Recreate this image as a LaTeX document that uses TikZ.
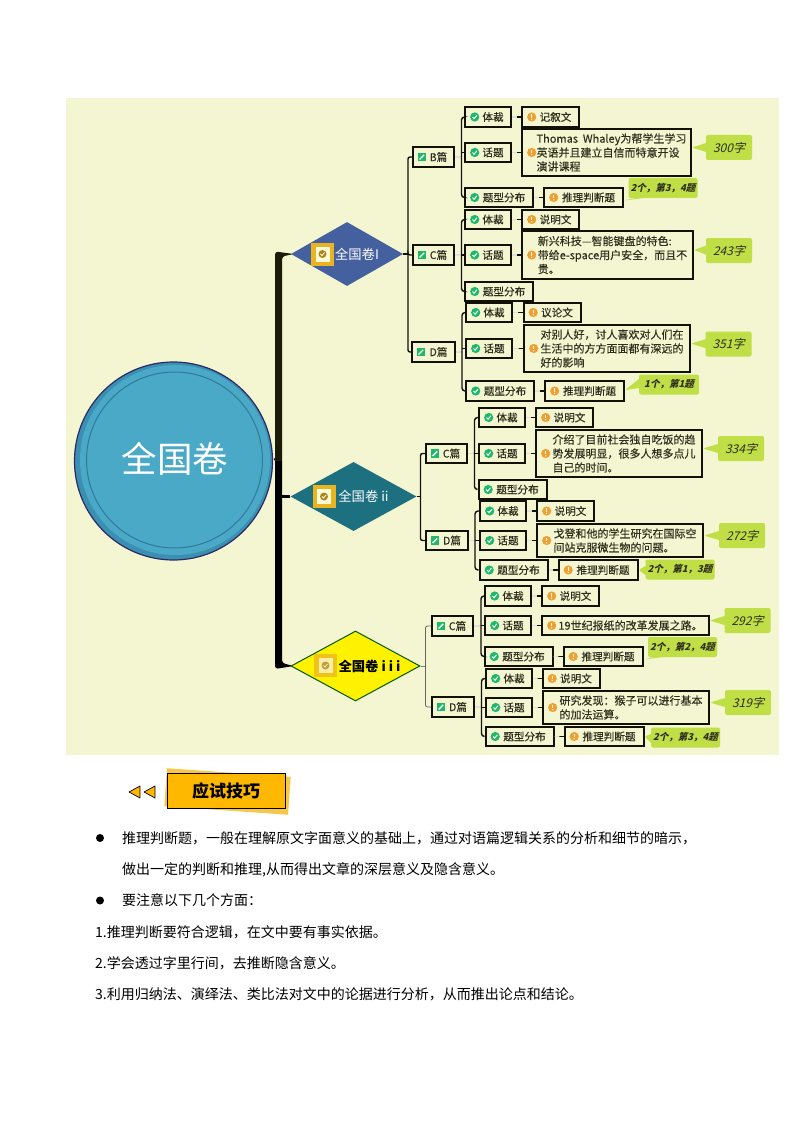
\documentclass[tikz,border=0pt]{standalone}
\usepackage{fontspec}
\setmainfont{Noto Sans CJK SC}
\newfontfamily\slantfont{Noto Sans CJK SC}[FakeSlant=0.25,BoldFeatures={FakeSlant=0.25}]
\newfontfamily\boxfont{Noto Sans CJK SC}[FakeBold=0.25]
\usepackage{tikz}
\usetikzlibrary{calc}
\usetikzlibrary{shapes.geometric}
\usetikzlibrary{shapes.callouts}
\definecolor{paper}{HTML}{F4F6D2}
\definecolor{boxline}{HTML}{111108}
\definecolor{inktext}{HTML}{2E2E1C}
\definecolor{okgreen}{HTML}{1DB86A}
\definecolor{warnorange}{HTML}{F0A030}
\definecolor{limetag}{HTML}{C0DE46}
\definecolor{rootblue}{HTML}{4AA9C6}
\definecolor{rootdark}{HTML}{3B8FB0}
\definecolor{rootrim}{HTML}{2C2A66}
\definecolor{trunkolive}{HTML}{1C1A08}
\definecolor{stampgold}{HTML}{EAB420}
\definecolor{tipgold}{HTML}{FFB800}
\definecolor{tipback}{HTML}{F5C84A}
\definecolor{slateblue}{HTML}{44609F}
\definecolor{deepteal}{HTML}{1D7080}
\newcommand{\ind}{\hspace*{10pt}}
\tikzset{
  tagbox/.style={draw=boxline, fill=paper, line width=2pt, minimum height=19.5pt, inner sep=0pt,
    text=inktext, font=\boxfont\fontsize{10.6}{14}\selectfont, align=left},
  passbox/.style={tagbox, minimum width=41pt},
  shortbox/.style={tagbox, minimum width=46pt},
  widebox/.style={tagbox, minimum width=68pt},
  valbox/.style={tagbox, minimum width=57pt},
  judgebox/.style={tagbox, minimum width=79pt},
  notebox/.style={tagbox, font=\boxfont\fontsize{11}{14}\selectfont},
  limetip/.style={rectangle callout, fill=limetag, rounded corners=2pt, inner sep=0pt,
    callout pointer width=9pt, text=inktext},
  wordtip/.style={limetip, minimum width=46pt, minimum height=25pt, font=\slantfont\fontsize{12}{14}\selectfont},
  counttip/.style={limetip, minimum width=69pt, minimum height=20pt, font=\slantfont\bfseries\fontsize{9.5}{12}\selectfont},
  paperdiamond/.style={diamond, aspect=1.75, inner sep=0pt, font=\fontsize{13.3}{15}\selectfont},
  link/.style={draw=boxline, line width=1.4pt},
  faint/.style={draw=white!75!gray, line width=1.4pt},
  bodyline/.style={anchor=west, inner sep=0pt, font=\fontsize{14}{16}\selectfont},
  dotmark/.style={circle, fill=black, inner sep=0pt, minimum size=8pt},
  tipmark/.style={draw=black, fill=tipgold, line width=.7pt, line join=round},
  okicon/.pic={\fill[okgreen] (0,0) circle [radius=4.6];
    \draw[white,line width=1pt] (-2.2,0) -- (-.6,1.7) -- (2.2,-1.7);},
  warnicon/.pic={\fill[warnorange] (0,0) circle [radius=4.6];
    \draw[white,line width=1.2pt] (0,-2.8) -- (0,.7);
    \fill[white] (0,2.3) circle [radius=.7];},
  penicon/.pic={\fill[okgreen] (-4.3,-4.3) rectangle (4.3,4.3);
    \draw[white,line width=1.4pt] (-2.4,2.4) -- (2.2,-2.2);},
  stamp/.pic={\fill[stampgold] (-11.5,-11.5) rectangle (11.5,11.5);
    \fill[white!85!yellow] (-7,-7.5) rectangle (7,7.5);
    \fill[stampgold!75!black] (0,0) circle [radius=4];
    \draw[white,line width=.8pt] (-2,0) -- (-.5,1.5) -- (2,-1.5);}
}
\begin{document}
\begin{tikzpicture}[x=1pt,y=-1pt]
\useasboundingbox (0,0) rectangle (794,1123);
\fill[paper] (66,98) rectangle (779,755);
% centre circle
\fill[rootdark, draw=rootrim, line width=1.2pt] (173.5,461) circle [radius=99];
\fill[rootblue] (175,460) circle [radius=95];
\draw[rootdark!85!black, line width=1pt] (174.5,460) circle [radius=88];
\node[circle, minimum size=198pt, inner sep=0pt, text=white, font=\fontsize{35.5}{38}\selectfont] (root) at (175,459) {全国卷};
% three papers
\node[paperdiamond, fill=slateblue, minimum width=112pt, minimum height=64pt, text=white] (papA) at (347,254) {\hspace*{20pt}全国卷I};
\node[paperdiamond, fill=deepteal, minimum width=126pt, minimum height=69pt, text=white] (papB) at (353.5,496.5) {\hspace*{20pt}全国卷 ii};
\node[paperdiamond, fill=yellow, draw=green!35!black, line width=1pt, minimum width=129pt, minimum height=70pt, font=\bfseries\fontsize{13.3}{15}\selectfont] (papC) at (355.5,666) {\hspace*{28pt}全国卷 i i i};
\pic at (322.5,254) {stamp};
\pic at (324,496.5) {stamp};
\pic[opacity=.75] at (325.5,665.5) {stamp};
% paper I, B
\node[passbox] (aB) at (433.5,157) {\ind B篇};
\node[shortbox] (aBg) at (488,117) {\ind 体裁};
\node[valbox] (aBgv) at (550.5,117) {\ind 记叙文};
\node[shortbox] (aBt) at (488,152.5) {\ind 话题};
\node[notebox, minimum width=169pt, minimum height=47pt] (aBtv) at (606.5,152.5) {\ind Thomas\ \ Whaley为帮学生学习\\\ind 英语并且建立自信而特意开设\\\ind 演讲课程};
\node[widebox] (aBq) at (499,197.5) {\ind 题型分布};
\node[judgebox] (aBqv) at (583.5,197.5) {\ind 推理判断题};
% paper I, C
\node[passbox] (aC) at (433.5,255) {\ind C篇};
\node[shortbox] (aCg) at (488,219.5) {\ind 体裁};
\node[valbox] (aCgv) at (550.5,219.5) {\ind 说明文};
\node[shortbox] (aCt) at (488,255) {\ind 话题};
\node[notebox, minimum width=171pt, minimum height=47pt] (aCtv) at (607.5,255) {\ind 新兴科技—智能键盘的特色:\\\ind 带给e-space用户安全，而且不\\\ind 贵。};
\node[widebox] (aCq) at (499,291.5) {\ind 题型分布};
% paper I, D
\node[tagbox, minimum width=43pt] (aD) at (433.5,352) {\ind D篇};
\node[shortbox] (aDg) at (489,312.5) {\ind 体裁};
\node[valbox] (aDgv) at (552,312.5) {\ind 议论文};
\node[shortbox] (aDt) at (489,348.5) {\ind 话题};
\node[notebox, minimum width=166pt, minimum height=47pt] (aDtv) at (607,348.5) {\ind 对别人好，讨人喜欢对人们在\\\ind 生活中的方方面面都有深远的\\\ind 好的影响};
\node[widebox] (aDq) at (500,391) {\ind 题型分布};
\node[judgebox] (aDqv) at (584.5,391) {\ind 推理判断题};
% paper ii, C
\node[passbox] (bC) at (446.5,453.5) {\ind C篇};
\node[shortbox] (bCg) at (502,417.5) {\ind 体裁};
\node[valbox] (bCgv) at (564.5,417.5) {\ind 说明文};
\node[shortbox] (bCt) at (502,453.5) {\ind 话题};
\node[notebox, minimum width=166pt, minimum height=47pt] (bCtv) at (619,453.5) {\ind 介绍了目前社会独自吃饭的趋\\\ind 势发展明显，很多人想多点儿\\\ind 自己的时间。};
\node[widebox] (bCq) at (512.5,489.5) {\ind 题型分布};
% paper ii, D
\node[tagbox, minimum width=42pt] (bD) at (447,540.5) {\ind D篇};
\node[shortbox] (bDg) at (503,511) {\ind 体裁};
\node[valbox] (bDgv) at (565.5,511) {\ind 说明文};
\node[shortbox] (bDt) at (503,540.5) {\ind 话题};
\node[notebox, minimum width=166pt, minimum height=33pt] (bDtv) at (620,540.5) {\ind 戈登和他的学生研究在国际空\\\ind 间站克服微生物的问题。};
\node[widebox] (bDq) at (513.5,570) {\ind 题型分布};
\node[judgebox] (bDqv) at (598,570) {\ind 推理判断题};
% paper iii, C
\node[passbox] (cC) at (452.5,626) {\ind C篇};
\node[shortbox] (cCg) at (508,596) {\ind 体裁};
\node[valbox] (cCgv) at (570.5,596) {\ind 说明文};
\node[shortbox] (cCt) at (508,625.5) {\ind 话题};
\node[tagbox, minimum width=167pt, font=\boxfont\fontsize{11}{14}\selectfont] (cCtv) at (625.5,625.5) {\ind 19世纪报纸的改革发展之路。};
\node[widebox] (cCq) at (518.5,656.5) {\ind 题型分布};
\node[judgebox] (cCqv) at (603,656.5) {\ind 推理判断题};
% paper iii, D
\node[tagbox, minimum width=42pt] (cD) at (453,707) {\ind D篇};
\node[shortbox] (cDg) at (509,678.5) {\ind 体裁};
\node[valbox] (cDgv) at (571,678.5) {\ind 说明文};
\node[shortbox] (cDt) at (509,707.5) {\ind 话题};
\node[notebox, minimum width=166pt, minimum height=33pt] (cDtv) at (626,707.5) {\ind 研究发现：猴子可以进行基本\\\ind 的加法运算。};
\node[widebox] (cDq) at (519.5,736.5) {\ind 题型分布};
\node[judgebox] (cDqv) at (604,736.5) {\ind 推理判断题};
% icons
\foreach \n in {aBg,aBt,aBq,aCg,aCt,aCq,aDg,aDt,aDq,bCg,bCt,bCq,bDg,bDt,bDq,cCg,cCt,cCq,cDg,cDt,cDq}
  \pic at ([xshift=10.7pt]\n.west) {okicon};
\foreach \n in {aBgv,aBtv,aBqv,aCgv,aCtv,aDgv,aDtv,aDqv,bCgv,bCtv,bDgv,bDtv,bDqv,cCgv,cCtv,cCqv,cDgv,cDtv,cDqv}
  \pic at ([xshift=10.7pt]\n.west) {warnicon};
\foreach \n in {aB,aC,aD,bC,bD,cC,cD}
  \pic at ([xshift=10pt]\n.west) {penicon};
% lime tags
\node[wordtip, callout absolute pointer={([yshift=5pt]aBtv.east)}] (aBtc) at (729,147.5) {300字};
\node[wordtip, callout absolute pointer={([yshift=5pt]aCtv.east)}] (aCtc) at (729,250.5) {243字};
\node[wordtip, callout absolute pointer={([yshift=5pt]aDtv.east)}] (aDtc) at (728.5,344) {351字};
\node[wordtip, callout absolute pointer={([yshift=5pt]bCtv.east)}] (bCtc) at (741,448.5) {334字};
\node[wordtip, callout absolute pointer={([yshift=5pt]bDtv.east)}] (bDtc) at (742,535.5) {272字};
\node[wordtip, callout absolute pointer={([yshift=5pt]cCtv.east)}] (cCtc) at (747.5,620.5) {292字};
\node[wordtip, callout absolute pointer={([yshift=5pt]cDtv.east)}] (cDtc) at (748,702.5) {319字};
\node[counttip, callout absolute pointer={([yshift=-3pt]aBqv.east)}] (aBqc) at (663,188) {2个，第3，4题};
\node[counttip, minimum width=60pt, callout absolute pointer={([yshift=1pt]aDqv.east)}] (aDqc) at (669,384.5) {1个，第1题};
\node[counttip, callout absolute pointer={(bDqv.east)}] (bDqc) at (680,569.5) {2个，第1，3题};
\node[counttip, callout absolute pointer={([yshift=-3pt]cCqv.east)}] (cCqc) at (682.5,647) {2个，第2，4题};
\node[counttip, callout absolute pointer={(cDqv.east)}] (cDqc) at (685.5,737.5) {2个，第3，4题};
% trunk
\coordinate (tk) at (278.5,461);
\draw[black, line width=2pt] (root.east) -- (tk);
\fill[trunkolive] (275,461) [rounded corners=3pt] -- (275,251.5) -- ([xshift=3pt]papA.west) -- (282,256.5) [sharp corners] -- (282,461) -- cycle;
\fill[black] (275,461) [rounded corners=3pt] -- (275,669) -- ([xshift=3pt]papC.west) -- (282,663) [sharp corners] -- (282,461) -- cycle;
\draw[black, line width=2.5pt] (tk |- papB.west) -- (papB.west);
% papers to passages
\coordinate (jA) at (408,254);
\coordinate (jB) at (420.5,496.5);
\coordinate (jC) at (425.5,666);
\foreach \p/\q in {papA/jA,papB/jB}
  \draw[link] (\p.east) -- (\q);
\draw[gray, line width=.8pt] (papC.east) -- (jC);
\foreach \q/\r in {jA/aB,jA/aC,jA/aD,jB/bC,jB/bD}
  \draw[link, rounded corners=2pt] (\q) |- (\r.west);
\foreach \r in {cC,cD}
  \draw[gray!80!black, line width=.8pt, rounded corners=2pt] (jC) |- (\r.west);
% passages to items
\foreach \s/\x/\g/\t/\q in {aB/461.5/aBg/aBt/aBq, aC/461.5/aCg/aCt/aCq, aD/462/aDg/aDt/aDq, bC/474.5/bCg/bCt/bCq, bD/475/bDg/bDt/bDq, cC/481/cCg/cCt/cCq, cD/481.5/cDg/cDt/cDq}{
  \coordinate (j) at (\x,0);
  \draw[faint] (\s.east) -- (j |- \s.east);
  \draw[link, rounded corners=3pt] (\g.west) -| (j |- \q.west) -- (\q.west);
  \draw[link] (j |- \t.west) -- (\t.west);
}
% items to values
\foreach \a/\b in {aBg/aBgv,aBt/aBtv,aBq/aBqv,aCg/aCgv,aCt/aCtv,aDg/aDgv,aDt/aDtv,aDq/aDqv,bCg/bCgv,bCt/bCtv,bDg/bDgv,bDt/bDtv,bDq/bDqv,cCg/cCgv,cCt/cCtv,cCq/cCqv,cDg/cDgv,cDt/cDtv,cDq/cDqv}{
  \draw[link] (\a.east) -- (\b.west);
  \draw[faint] (\a.east) -- ($(\a.east)!.55!(\b.west)$);
}
% banner
\node[fill=tipback, rotate=-4, minimum width=124pt, minimum height=38pt] (tipbk) at (227.5,791.5) {};
\node[fill=tipgold, draw=black, line width=.8pt, minimum width=118pt, minimum height=35pt, font=\bfseries\fontsize{17}{19}\selectfont] (tiptext) at (226,790.5) {应试技巧};
\draw[tipmark] (129,792) -- (140,786) -- (140,798) -- cycle;
\draw[tipmark] (144,792) -- (155,786) -- (155,798) -- cycle;
% body text
\node[dotmark] (dotA) at (100,838) {};
\node[dotmark] (dotB) at (100,900.5) {};
\node[bodyline] (lineA) at (122,838) {推理判断题，一般在理解原文字面意义的基础上，通过对语篇逻辑关系的分析和细节的暗示，};
\node[bodyline] (lineB) at (122,869.5) {做出一定的判断和推理,从而得出文章的深层意义及隐含意义。};
\node[bodyline] (lineC) at (122,900.5) {要注意以下几个方面：};
\node[bodyline] (lineD) at (95,932) {1.推理判断要符合逻辑，在文中要有事实依据。};
\node[bodyline] (lineE) at (95,963) {2.学会透过字里行间，去推断隐含意义。};
\node[bodyline] (lineF) at (95,994.5) {3.利用归纳法、演绎法、类比法对文中的论据进行分析，从而推出论点和结论。};
\end{tikzpicture}
\end{document}
